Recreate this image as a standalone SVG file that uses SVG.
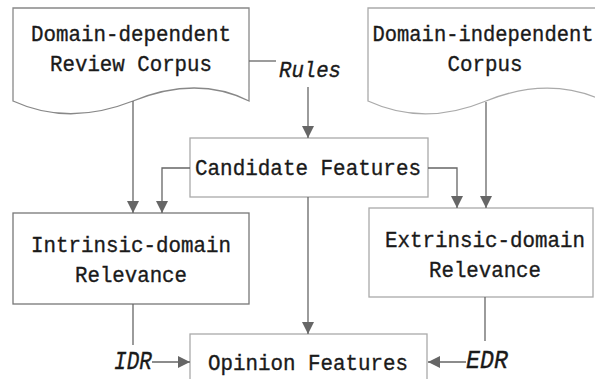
<svg xmlns="http://www.w3.org/2000/svg" width="595" height="379" viewBox="0 0 595 379">
  <defs>
    <marker id="arr" markerUnits="userSpaceOnUse" markerWidth="13" markerHeight="12" refX="12" refY="6" orient="auto">
      <path d="M0,0 L12,6 L0,12 z" fill="#666"/>
    </marker>
    <style>
      .box { fill: #fff; stroke: #888; stroke-width: 1.3; }
      .lite { stroke: #aaa; }
      .t { font-family: "Liberation Mono", "DejaVu Sans Mono", monospace; font-size: 22.5px; fill: #1a1a1a; stroke: #1a1a1a; stroke-width: 0.35; text-anchor: middle; }
      .lbl { font-family: "Liberation Mono", "DejaVu Sans Mono", monospace; font-size: 22px; font-style: italic; fill: #1a1a1a; stroke: #1a1a1a; stroke-width: 0.35; }
      .c { fill: none; stroke: #666; stroke-width: 1.3; }
    </style>
  </defs>
  <rect width="595" height="379" fill="#fff"/>

  <g id="doc-dependent">
    <path class="box" d="M13,8 H249 V101 C215,84 175,84 133,101 C90,118 50,118 13,101 Z"/>
    <text class="t" x="131" y="41" textLength="200" lengthAdjust="spacingAndGlyphs">Domain-dependent</text>
    <text class="t" x="131" y="71" textLength="162" lengthAdjust="spacingAndGlyphs">Review Corpus</text>
  </g>

  <g id="doc-independent">
    <path class="box lite" d="M368,8 H604 V101 C568,84 528,84 486,101 C445,118 405,118 368,101 Z"/>
    <text class="t" x="483" y="41" textLength="221" lengthAdjust="spacingAndGlyphs">Domain-independent</text>
    <text class="t" x="485" y="71" textLength="75" lengthAdjust="spacingAndGlyphs">Corpus</text>
  </g>

  <g id="candidate">
    <rect class="box lite" x="190" y="138" width="238" height="59"/>
    <text class="t" x="308" y="175" textLength="226" lengthAdjust="spacingAndGlyphs">Candidate Features</text>
  </g>

  <g id="intrinsic">
    <rect class="box" x="13" y="213" width="236" height="91" style="stroke:#777"/>
    <text class="t" x="131" y="252" textLength="200" lengthAdjust="spacingAndGlyphs">Intrinsic-domain</text>
    <text class="t" x="131" y="282" textLength="112" lengthAdjust="spacingAndGlyphs">Relevance</text>
  </g>

  <g id="extrinsic">
    <rect class="box lite" x="369" y="208" width="224" height="89"/>
    <text class="t" x="485" y="247" textLength="200" lengthAdjust="spacingAndGlyphs">Extrinsic-domain</text>
    <text class="t" x="485" y="277" textLength="112" lengthAdjust="spacingAndGlyphs">Relevance</text>
  </g>

  <g id="opinion">
    <rect class="box lite" x="190" y="334" width="237" height="60"/>
    <text class="t" x="308" y="370" textLength="200" lengthAdjust="spacingAndGlyphs">Opinion Features</text>
  </g>

  <g id="labels">
    <text class="lbl" x="279" y="77" textLength="62" lengthAdjust="spacingAndGlyphs">Rules</text>
    <text class="lbl" x="114" y="369" textLength="38" lengthAdjust="spacingAndGlyphs" style="font-size:25px">IDR</text>
    <text class="lbl" x="466" y="368" textLength="42" lengthAdjust="spacingAndGlyphs" style="font-size:25px">EDR</text>
  </g>

  <g id="connectors">
    <path class="c" d="M133,101 V213" marker-end="url(#arr)"/>
    <path class="c" d="M190,168 H162 V213" marker-end="url(#arr)"/>
    <path class="c" d="M249,61 H276"/>
    <path class="c" d="M308,87 V138" marker-end="url(#arr)"/>
    <path class="c" d="M308,197 V334" marker-end="url(#arr)"/>
    <path class="c" d="M428,168 H457 V208" marker-end="url(#arr)"/>
    <path class="c" d="M486,102 V208" marker-end="url(#arr)"/>
    <path class="c" d="M133,304 V345"/>
    <path class="c" d="M152,362 H190" marker-end="url(#arr)"/>
    <path class="c" d="M485,297 V341"/>
    <path class="c" d="M466,362 H428" marker-end="url(#arr)"/>
  </g>
</svg>
